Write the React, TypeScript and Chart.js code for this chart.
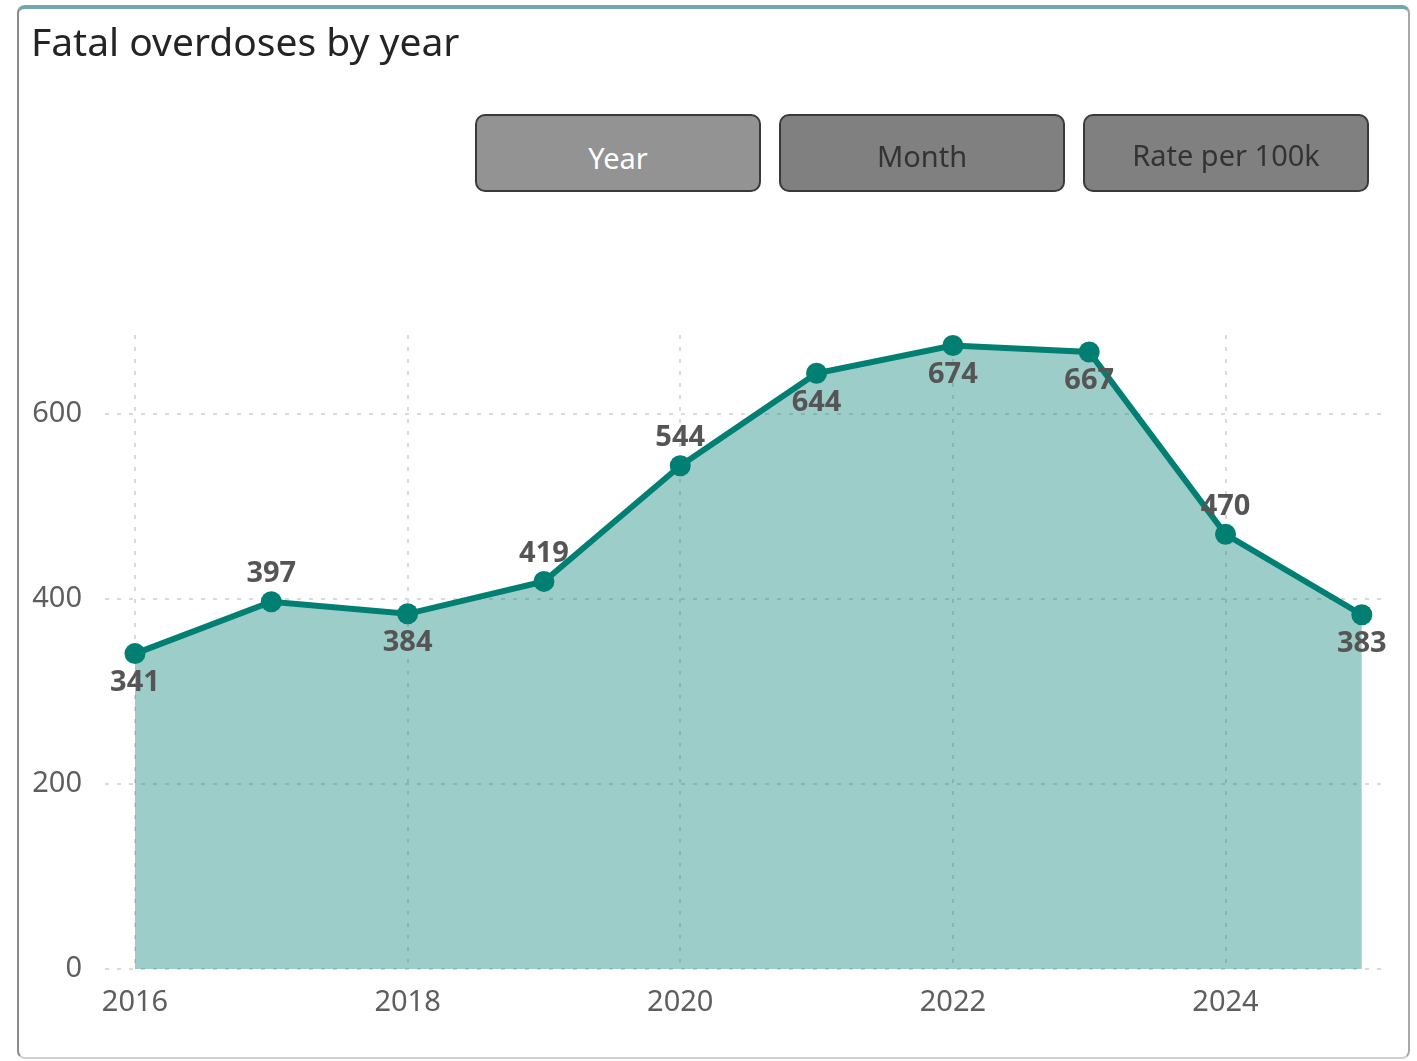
import React, { useEffect, useRef } from "react";
import { Chart, registerables } from "chart.js";

Chart.register(...registerables);

const years = [2016, 2017, 2018, 2019, 2020, 2021, 2022, 2023, 2024, 2025];
const deaths = [341, 397, 384, 419, 544, 644, 674, 667, 470, 383];
// +1 = label above point, -1 = label below point
const labelSide = [-1, 1, -1, 1, 1, -1, -1, -1, 1, -1];
const xTicks = [2016, 2018, 2020, 2022, 2024];
const yTicks = [0, 200, 400, 600];
const buttons = ["Year", "Month", "Rate per 100k"];

const FONT = "'Noto Sans', 'Open Sans', sans-serif";

const labelPlugin = {
  id: "pointLabels",
  afterDatasetsDraw(chart: any) {
    const ctx = chart.ctx;
    const meta = chart.getDatasetMeta(0);
    ctx.save();
    ctx.font = `bold 29px ${FONT}`;
    ctx.fillStyle = "#555555";
    ctx.textAlign = "center";
    ctx.textBaseline = "middle";
    meta.data.forEach((pt: any, i: number) => {
      const dy = labelSide[i] > 0 ? -28 : 29;
      ctx.fillText(String(deaths[i]), pt.x, pt.y + dy);
    });
    ctx.restore();
  },
};

export default function App() {
  const ref = useRef<HTMLCanvasElement | null>(null);
  useEffect(() => {
    if (!ref.current) return;
    const chart = new Chart(ref.current, {
      type: "line",
      data: {
        datasets: [
          {
            data: years.map((y, i) => ({ x: y, y: deaths[i] })),
            borderColor: "#017f73",
            backgroundColor: "rgba(0,126,115,0.39)",
            fill: "origin",
            borderWidth: 6,
            pointRadius: 10.5,
            pointBackgroundColor: "#017f73",
            pointBorderColor: "#017f73",
            pointBorderWidth: 0,
            tension: 0,
          },
        ],
      },
      options: {
        animation: false,
        responsive: false,
        maintainAspectRatio: false,
        layout: { padding: { left: 0, right: 32, top: 335, bottom: 0 } },
        plugins: { legend: { display: false }, tooltip: { enabled: false } },
        scales: {
          x: {
            type: "linear",
            min: 2015.78,
            max: 2025.17,
            afterBuildTicks: (s: any) => {
              s.ticks = xTicks.map((v) => ({ value: v }));
            },
            afterFit: (s: any) => {
              s.height = 92;
            },
            grid: { color: "#dadada", lineWidth: 2, drawTicks: false },
            border: { display: false, dash: [4, 8] },
            ticks: {
              padding: 16,
              color: "#605e5c",
              font: { family: FONT, size: 29 },
              callback: (v: any) => String(v),
              maxRotation: 0,
            },
          },
          y: {
            min: 0,
            max: 685.4,
            afterBuildTicks: (s: any) => {
              s.ticks = yTicks.map((v) => ({ value: v }));
            },
            afterFit: (s: any) => {
              s.width = 105;
            },
            grid: { color: "#dadada", lineWidth: 2, drawTicks: false },
            border: { display: false, dash: [4, 8] },
            ticks: {
              padding: 23,
              color: "#605e5c",
              font: { family: FONT, size: 29 },
            },
          },
        },
      },
      plugins: [labelPlugin],
    });
    return () => chart.destroy();
  }, []);

  return (
    <div style={{ position: "absolute", left: 0, top: 0, width: 1417, height: 1061, background: "#fff", overflow: "hidden" }}>
      <div
        style={{
          position: "absolute",
          left: 17,
          top: 5,
          width: 1393,
          height: 1054,
          boxSizing: "border-box",
          borderLeft: "2px solid #8a8a8a",
          borderRight: "2px solid #a8a8a8",
          borderBottom: "2px solid #d0d0d0",
          borderTop: "4px solid #6fa8ad",
          borderRadius: 8,
        }}
      />
      <canvas ref={ref} width={1417} height={1061} style={{ position: "absolute", left: 0, top: 0 }} />
      <div
        style={{
          position: "absolute",
          left: 31,
          top: 16,
          fontFamily: FONT,
          fontSize: 39,
          color: "#252423",
          lineHeight: "50px",
          whiteSpace: "nowrap",
        }}
      >
        Fatal overdoses by year
      </div>
      {buttons.map((b, i) => (
        <div
          key={b}
          style={{
            position: "absolute",
            left: 475 + i * 304,
            top: 114,
            width: 286,
            height: 78,
            boxSizing: "border-box",
            border: "2px solid #3a3a3a",
            borderRadius: 10,
            background: i === 0 ? "#939393" : "#808080",
            color: i === 0 ? "#ffffff" : "#333333",
            fontFamily: FONT,
            fontSize: 29,
            display: "flex",
            alignItems: "center",
            justifyContent: "center",
            paddingTop: i === 0 ? 8 : i === 1 ? 4 : 2,
          }}
        >
          {b}
        </div>
      ))}
    </div>
  );
}
